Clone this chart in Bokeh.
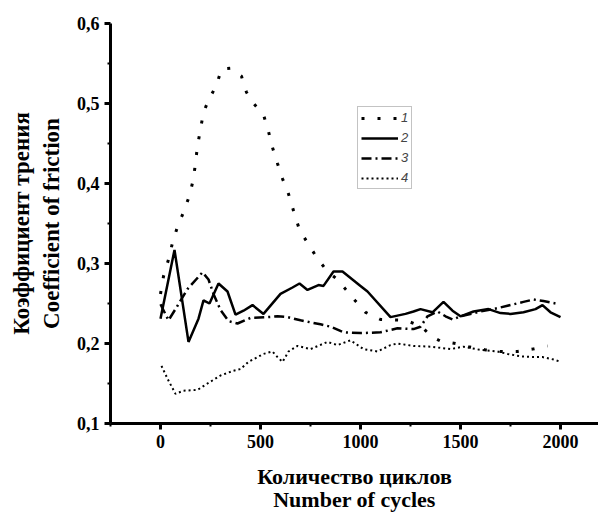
import math
from bokeh.plotting import figure
from bokeh.models import (Legend, LegendItem, FixedTicker,
                          CustomJSTickFormatter, Range1d)
from bokeh.embed import file_html
from bokeh.resources import INLINE

# ---- data ----
x1 = [0, 15, 40, 60, 85, 115, 145, 165, 175, 185, 200, 215, 240, 280, 305, 350,
      405, 430, 465, 515, 540, 560, 585, 610, 640, 665, 695, 735, 785, 835, 885,
      925, 975, 1025, 1100, 1225, 1300, 1360, 1400, 1475, 1540, 1625, 1700,
      1785, 1860, 1935]
y1 = [0.262, 0.284, 0.305, 0.326, 0.346, 0.364, 0.385, 0.406, 0.426, 0.447,
      0.468, 0.489, 0.504, 0.523, 0.543, 0.544, 0.534, 0.514, 0.500, 0.486,
      0.465, 0.445, 0.425, 0.406, 0.387, 0.366, 0.342, 0.326, 0.306, 0.290,
      0.280, 0.268, 0.253, 0.239, 0.230, 0.229, 0.222, 0.208, 0.203, 0.200,
      0.196, 0.192, 0.190, 0.190, 0.193, 0.197]

x2 = [0, 70, 140, 190, 215, 245, 290, 335, 375, 415, 460, 515, 600, 660, 695,
      735, 790, 815, 865, 910, 1000, 1035, 1150, 1225, 1265, 1300, 1360, 1415,
      1460, 1500, 1565, 1640, 1700, 1750, 1815, 1875, 1910, 1950, 2000]
y2 = [0.231, 0.317, 0.202, 0.231, 0.254, 0.250, 0.275, 0.265, 0.236, 0.241,
      0.248, 0.237, 0.262, 0.270, 0.275, 0.267, 0.273, 0.272, 0.290, 0.290,
      0.272, 0.265, 0.233, 0.237, 0.240, 0.243, 0.239, 0.252, 0.241, 0.234,
      0.240, 0.243, 0.238, 0.237, 0.239, 0.243, 0.248, 0.239, 0.233]

x3 = [0, 40, 75, 135, 210, 240, 265, 300, 340, 385, 450, 535, 585, 635, 700,
      800, 850, 915, 1000, 1100, 1185, 1265, 1300, 1335, 1385, 1425, 1460,
      1500, 1600, 1665, 1765, 1815, 1865, 1915, 1975]
y3 = [0.249, 0.229, 0.243, 0.268, 0.289, 0.280, 0.262, 0.242, 0.228, 0.225,
      0.232, 0.233, 0.234, 0.233, 0.229, 0.224, 0.221, 0.214, 0.213, 0.214,
      0.219, 0.218, 0.221, 0.234, 0.240, 0.234, 0.230, 0.234, 0.240, 0.243,
      0.249, 0.252, 0.255, 0.253, 0.250]

x4 = [5, 35, 75, 115, 185, 235, 300, 365, 400, 440, 515, 560, 585, 610, 640,
      685, 750, 835, 885, 950, 1015, 1085, 1150, 1185, 1265, 1350, 1450, 1515,
      1600, 1685, 1735, 1800, 1865, 1910, 1965, 1990]
y4 = [0.172, 0.156, 0.137, 0.141, 0.142, 0.150, 0.160, 0.166, 0.168, 0.177,
      0.187, 0.190, 0.183, 0.177, 0.190, 0.197, 0.193, 0.202, 0.198, 0.204,
      0.193, 0.190, 0.198, 0.200, 0.197, 0.196, 0.193, 0.196, 0.192, 0.190,
      0.187, 0.184, 0.183, 0.183, 0.180, 0.178]

series_labels = ["1", "2", "3", "4"]
x_major = [0, 500, 1000, 1500, 2000]
x_minor = [-250, 250, 750, 1250, 1750]
y_major = [0.1, 0.2, 0.3, 0.4, 0.5, 0.6]
y_minor = [0.15, 0.25, 0.35, 0.45, 0.55]

x_title = ["Количество циклов", "Number of cycles"]
y_title = ["Коэффициент трения", "Coefficient of friction"]

# ---- figure ----
p = figure(width=598, height=514, output_backend="svg", toolbar_location=None,
           x_range=Range1d(-250, 2190), y_range=Range1d(0.1, 0.6),
           min_border_left=110, min_border_right=0, min_border_top=23,
           min_border_bottom=85)
p.outline_line_color = None
p.xgrid.visible = False
p.ygrid.visible = False
p.background_fill_color = "white"
p.border_fill_color = "white"

serif = "Liberation Serif"
for ax in (p.xaxis[0], p.yaxis[0]):
    ax.axis_line_width = 3
    ax.axis_line_color = "black"
    ax.major_tick_line_width = 3
    ax.minor_tick_line_width = 2
    ax.major_tick_line_color = "black"
    ax.minor_tick_line_color = "black"
    ax.major_tick_in = 0
    ax.major_tick_out = 6
    ax.minor_tick_in = 0
    ax.minor_tick_out = 3
    ax.major_label_text_font = serif
    ax.major_label_text_font_style = "bold"
    ax.major_label_text_font_size = "18px"
    ax.major_label_text_color = "black"
    ax.major_label_standoff = 5
    ax.axis_label_text_font = serif
    ax.axis_label_text_font_style = "bold"
    ax.axis_label_text_color = "black"

p.xaxis.axis_label_text_font_size = "22px"
p.xaxis.axis_label_text_line_height = 0.92
p.xaxis.axis_label_standoff = 13
p.yaxis.axis_label_text_font_size = "23px"
p.yaxis.axis_label_standoff = 10

p.xaxis.axis_label = "\n".join(x_title)
p.yaxis.axis_label = "\n".join(y_title)
p.xaxis.ticker = FixedTicker(ticks=x_major, minor_ticks=x_minor)
p.yaxis.ticker = FixedTicker(ticks=y_major, minor_ticks=y_minor)
p.yaxis.formatter = CustomJSTickFormatter(code="return tick.toFixed(1).replace('.', ',');")

r1 = p.line(x1, y1, line_color="black", line_width=3, line_dash="3 13")
r2 = p.line(x2, y2, line_color="black", line_width=2.5)
r3 = p.line(x3, y3, line_color="black", line_width=2.5, line_dash="10 4 2 4")
r4 = p.line(x4, y4, line_color="black", line_width=2, line_dash="2 3")

legend = Legend(items=[LegendItem(label=series_labels[i], renderers=[r])
                       for i, r in enumerate([r1, r2, r3, r4])],
                location=(247, 234), orientation="vertical",
                border_line_color="#888888", border_line_width=1,
                padding=3, spacing=5, margin=0,
                glyph_width=37, glyph_height=14, label_height=14,
                label_standoff=3, label_width=6,
                label_text_font="Liberation Sans",
                label_text_font_style="italic",
                label_text_font_size="13px",
                background_fill_color="white", background_fill_alpha=1)
p.add_layout(legend)

open("out.html", "w").write(file_html(p, INLINE))
